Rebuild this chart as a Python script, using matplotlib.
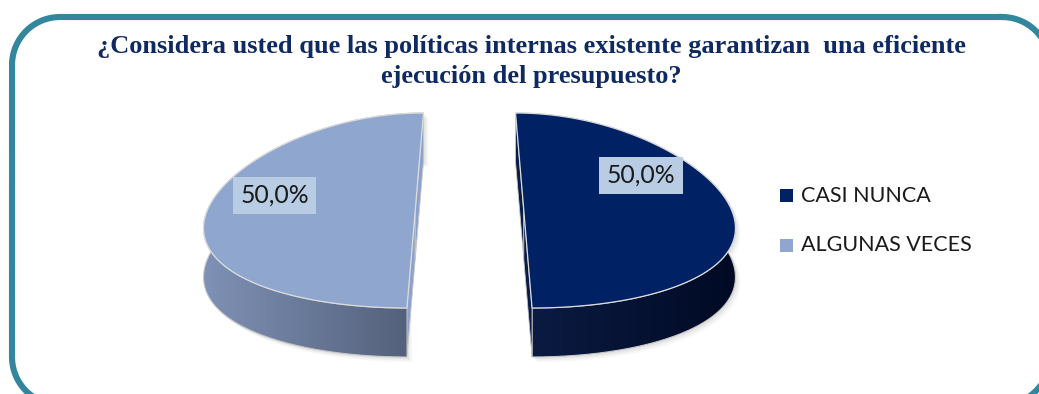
import numpy as np
import matplotlib
matplotlib.use("Agg")
import matplotlib.pyplot as plt
from matplotlib.path import Path
from matplotlib.patches import PathPatch, Rectangle
from matplotlib.colors import LinearSegmentedColormap

# ---- data ----
categories = ["CASI NUNCA", "ALGUNAS VECES"]
values = [50.0, 50.0]
title_lines = ["¿Considera usted que las políticas internas existente garantizan  una eficiente",
               "ejecución del presupuesto?"]

# ---- styling ----
top_colors = ["#012165", "#8FA6CF"]
cut_colors = ["#0A1B45", "#8CA2CB"]
wall_grad = [("#0C1C44", "#000A24"), ("#7F91B5", "#505D77")]
label_box = "#B8CCE4"
border_col = "#33879C"
title_col = "#0F2A62"

W, H = 1039, 394
fig = plt.figure(figsize=(W / 100, H / 100), dpi=100)
ax = fig.add_axes([0, 0, 1, 1])
ax.set_xlim(0, W)
ax.set_ylim(H, 0)
ax.axis("off")

# pie geometry (pixel units), light perspective widening toward the front
cx, cy = 469.5, 210.5
a, b = 208.0, 97.5
depth = 49.0
k = 0.152
explode = 0.261
start = 90.0


def proj(X, Y):
    return cx + a * X * (1 - k * Y), cy - b * Y


def gradient_fill(path, c0, c1, z):
    patch = PathPatch(path, facecolor="none", edgecolor="none", zorder=z)
    ax.add_patch(patch)
    xs, ys = path.vertices[:, 0], path.vertices[:, 1]
    cmap = LinearSegmentedColormap.from_list("g", [c0, c1])
    grad = np.linspace(0, 1, 256)[None, :]
    im = ax.imshow(grad, cmap=cmap, extent=(xs.min(), xs.max(), ys.max(), ys.min()),
                   aspect="auto", zorder=z, interpolation="bilinear")
    im.set_clip_path(patch)


total = sum(values)
theta0 = start
label_pos = [(30.4, 0.709), (167.6, 0.716)]
for i, v in enumerate(values):
    span = 360.0 * v / total
    t1, t2 = theta0, theta0 - span
    mid = np.radians((t1 + t2) / 2)
    ox, oy = explode * np.cos(mid), explode * np.sin(mid)
    th = np.radians(np.linspace(t1, t2, 200))
    X = ox + np.cos(th)
    Y = oy + np.sin(th)
    px, py = proj(X, Y)
    c_x, c_y = proj(ox, oy)

    # soft drop shadow under the slice body
    wall_x = np.concatenate([px, px[::-1]])
    wall_y = np.concatenate([py, py[::-1] + depth])
    for s, al in [(5, 0.05), (3.5, 0.07), (2, 0.09)]:
        ax.fill(wall_x + s, wall_y + s, color="#7a7a7a", alpha=al, lw=0, zorder=1)

    # outer wall with horizontal gradient
    wall_path = Path(np.column_stack([wall_x, wall_y]))
    gradient_fill(wall_path, wall_grad[i][0], wall_grad[i][1], 2)
    ax.add_patch(PathPatch(wall_path, facecolor="none", edgecolor="#c8c8c8", lw=0.8, zorder=2.1))

    # flat cut faces along the split line
    for (xa, ya), (xb, yb) in [((px[0], py[0]), (c_x, c_y)), ((c_x, c_y), (px[-1], py[-1]))]:
        cut = np.array([[xa, ya], [xb, yb], [xb, yb + depth], [xa, ya + depth]])
        ax.add_patch(plt.Polygon(cut, closed=True, facecolor=cut_colors[i],
                                 edgecolor="#c8c8c8", lw=0.6, zorder=2.5))

    # top face
    top = np.column_stack([np.concatenate([[c_x], px]), np.concatenate([[c_y], py])])
    ax.add_patch(plt.Polygon(top, closed=True, facecolor=top_colors[i],
                             edgecolor="#dcdcdc", lw=0.9, zorder=3))

    # value label
    ang, r = label_pos[i]
    lx, ly = proj(ox + r * np.cos(np.radians(ang)), oy + r * np.sin(np.radians(ang)))
    ax.text(lx, ly, f"{v:.1f}%".replace(".", ","), fontsize=17.8, family="Lato",
            color="#1a1a1a", ha="center", va="center", zorder=5,
            bbox=dict(boxstyle="square,pad=0.3", fc=label_box, ec="none"))
    theta0 = t2

# legend
for i, name in enumerate(categories):
    y = 195.5 + i * 49.5
    ax.add_patch(Rectangle((779.5, y - 6.5), 13, 13, facecolor=top_colors[i],
                           edgecolor="none", zorder=5))
    ax.text(801, y, name, fontsize=15.5, family="Lato", color="#1a1a1a",
            ha="left", va="center", zorder=5)

# title
for j, line in enumerate(title_lines):
    ax.text(531, 53 + 30 * j, line, fontsize=19, family="Liberation Serif", weight="bold",
            color=title_col, ha="center", va="baseline", zorder=5)

# rounded frame
x0, y0, x1, y1, rr = 12, 17, 1050, 405, 48
corners = [((x1 - rr, y0 + rr), -90, 0), ((x1 - rr, y1 - rr), 0, 90),
           ((x0 + rr, y1 - rr), 90, 180), ((x0 + rr, y0 + rr), 180, 270)]
pts = []
for (ccx, ccy), a0, a1 in corners:
    t = np.radians(np.linspace(a0, a1, 40))
    pts.append(np.column_stack([ccx + rr * np.cos(t), ccy + rr * np.sin(t)]))
pts = np.vstack(pts + [pts[0][:1]])
ax.plot(pts[:, 0], pts[:, 1], color=border_col, lw=4.4, zorder=6,
        solid_joinstyle="round", clip_on=False)

fig.savefig("out.png", dpi=100)
